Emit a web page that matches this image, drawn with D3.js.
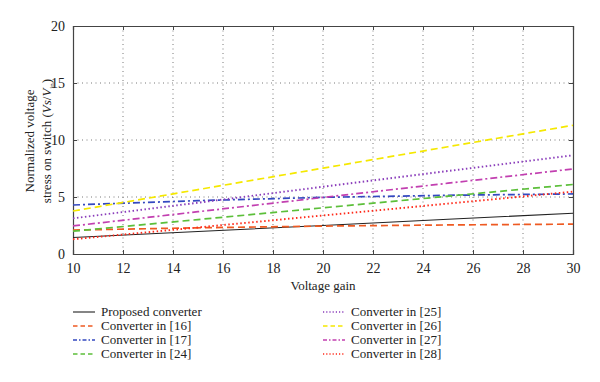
<!DOCTYPE html>
<html lang="en">
<head>
  <meta charset="UTF-8">
  <title>Voltage stress vs gain</title>
  <script src="https://d3js.org/d3.v7.min.js"></script>
  <style>
    body { margin: 0; background: #fff; }
    svg text { font-family: "Liberation Serif", "Times New Roman", Times, "DejaVu Serif", serif; fill: #222; }
  </style>
</head>
<body>
<script>
// voltage gain samples
var gains = [10, 15, 20, 25, 30];

var seriesNames = ["Proposed converter", "Converter in [16]", "Converter in [17]", "Converter in [24]",
                   "Converter in [25]", "Converter in [26]", "Converter in [27]", "Converter in [28]"];

var proposed = [1.45, 1.98, 2.5, 3.05, 3.58];
var conv16 = [2.1, 2.3, 2.45, 2.55, 2.62];
var conv17 = [4.3, 4.68, 4.97, 5.15, 5.27];
var conv24 = [2.0, 3.02, 4.05, 5.07, 6.1];
var conv25 = [3.13, 4.5, 5.9, 7.28, 8.66];
var conv26 = [3.77, 5.65, 7.53, 9.41, 11.29];
var conv27 = [2.46, 3.71, 4.96, 6.21, 7.46];
var conv28 = [1.29, 2.33, 3.38, 4.42, 5.47];

var xTicks = [10, 12, 14, 16, 18, 20, 22, 24, 26, 28, 30];
var yTicks = [0, 5, 10, 15, 20];

var styles = [
  {color: "#222222", dash: null, w: 1.1, leg: null},
  {color: "#ee5a22", dash: "7,4", w: 1.7, leg: "4.5,3"},
  {color: "#3348c0", dash: "7,3,2,3", w: 1.7, leg: "4,2,1.5,2"},
  {color: "#5cbf3a", dash: "7,4", w: 1.7, leg: "4.5,3"},
  {color: "#8a3dbb", dash: "1.5,2.5", w: 1.9, leg: "1.2,2"},
  {color: "#f5e800", dash: "7,4", w: 1.7, leg: "4.5,3"},
  {color: "#c23fb0", dash: "7,3,2,3", w: 1.7, leg: "4,2,1.5,2"},
  {color: "#ff2a1a", dash: "1.5,2.5", w: 1.9, leg: "1.2,2"}
];

var allSeries = [proposed, conv16, conv17, conv24, conv25, conv26, conv27, conv28];

var width = 600, height = 382,
    margin = {top: 26, right: 27, bottom: 128, left: 73};
var w = width - margin.left - margin.right,
    h = height - margin.top - margin.bottom;

var svg = d3.select("body").append("svg")
    .attr("width", width)
    .attr("height", height);
var g = svg.append("g").attr("transform", "translate(" + margin.left + "," + margin.top + ")");

var x = d3.scaleLinear().domain([10, 30]).range([0, w]);
var y = d3.scaleLinear().domain([0, 20]).range([h, 0]);

// grid
g.append("g").selectAll("line").data(xTicks.slice(1, -1)).enter().append("line")
    .attr("x1", d => x(d)).attr("x2", d => x(d))
    .attr("y1", 0).attr("y2", h)
    .attr("stroke", "#555").attr("stroke-width", 0.8).attr("stroke-dasharray", "1,3.5");
g.append("g").selectAll("line").data(yTicks.slice(1, -1)).enter().append("line")
    .attr("y1", d => y(d)).attr("y2", d => y(d))
    .attr("x1", 0).attr("x2", w)
    .attr("stroke", "#555").attr("stroke-width", 0.8).attr("stroke-dasharray", "1,3.5");

// axes
var xAxis = g.append("g").attr("transform", "translate(0," + h + ")")
    .call(d3.axisBottom(x).tickValues(xTicks).tickSize(-4).tickPadding(9));
var yAxis = g.append("g")
    .call(d3.axisLeft(y).tickValues(yTicks).tickSize(-4).tickPadding(8));
var xTop = g.append("g").call(d3.axisTop(x).tickValues(xTicks).tickSize(-4).tickFormat(""));
var yRight = g.append("g").attr("transform", "translate(" + w + ",0)")
    .call(d3.axisRight(y).tickValues(yTicks).tickSize(-4).tickFormat(""));
[xAxis, yAxis, xTop, yRight].forEach(function(a) {
  a.attr("font-family", null).attr("font-size", null);
  a.select(".domain").attr("stroke", "#444").attr("stroke-width", 1.2);
  a.selectAll(".tick line").attr("stroke", "#444");
  a.selectAll(".tick text").style("font-size", "14px").attr("fill", "#222");
});

// lines
var line = d3.line().x((d, i) => x(gains[i])).y(d => y(d));
allSeries.forEach(function(s, i) {
  g.append("path").datum(s)
    .attr("d", line)
    .attr("fill", "none")
    .attr("stroke", styles[i].color)
    .attr("stroke-width", styles[i].w)
    .attr("stroke-dasharray", styles[i].dash);
});

// axis titles
svg.append("text")
    .attr("x", margin.left + w / 2).attr("y", 290)
    .attr("text-anchor", "middle").style("font-size", "13px")
    .text("Voltage gain");

var yl = svg.append("g").attr("transform", "translate(34,141) rotate(-90)");
yl.append("text").attr("text-anchor", "middle").style("font-size", "13px")
    .text("Normalized voltage");
var t2 = yl.append("text").attr("y", 17).attr("text-anchor", "middle").style("font-size", "13px");
t2.append("tspan").text("stress on switch (");
t2.append("tspan").style("font-style", "italic").text("Vs");
t2.append("tspan").text("/");
t2.append("tspan").style("font-style", "italic").text("V");
t2.append("tspan").attr("dy", 3).style("font-size", "7px").text("in");
t2.append("tspan").attr("dy", -3).text(")");

// legend
var legend = svg.append("g");
seriesNames.forEach(function(name, i) {
  var col = Math.floor(i / 4), row = i % 4;
  var lx = col === 0 ? 73 : 323, ly = 312 + row * 14;
  legend.append("line")
    .attr("x1", lx).attr("x2", lx + 22)
    .attr("y1", ly).attr("y2", ly)
    .attr("stroke", styles[i].color)
    .attr("stroke-width", i === 0 ? 1.1 : 1.4)
    .attr("stroke-dasharray", styles[i].leg);
  legend.append("text")
    .attr("x", lx + 28).attr("y", ly + 4)
    .style("font-size", "13px")
    .text(name);
});
</script>
</body>
</html>
